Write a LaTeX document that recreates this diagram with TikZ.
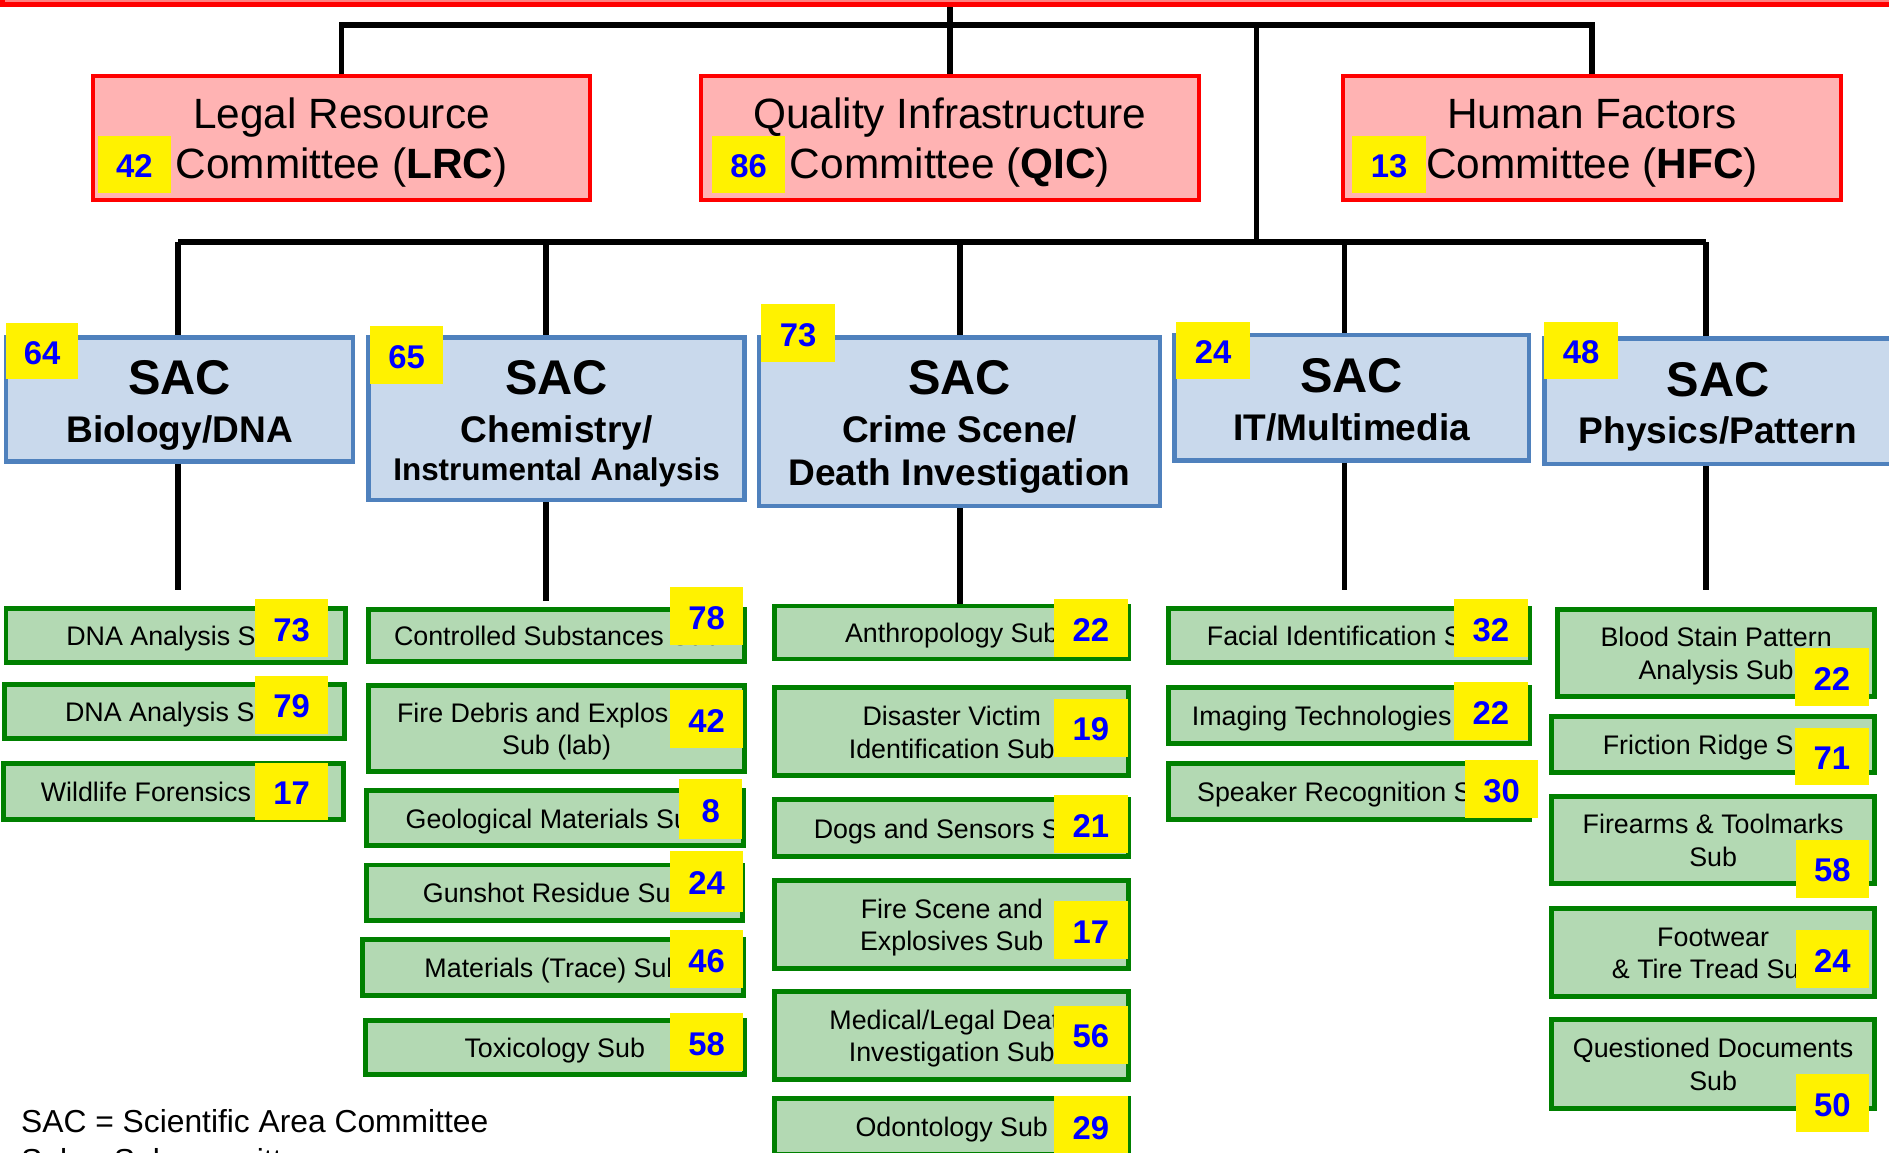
\documentclass[tikz,border=0pt]{standalone}
\usepackage{fontspec}
\setmainfont{Liberation Sans}
\usepackage{tikz}
\definecolor{barfill}{HTML}{FF8080}
\definecolor{cmtefill}{HTML}{FFB3B3}
\definecolor{sacfill}{HTML}{C9D9EC}
\definecolor{sacline}{HTML}{4F81BD}
\definecolor{subfill}{HTML}{B3D9B3}
\definecolor{subline}{HTML}{008000}
\newcommand{\sactop}{{\fontsize{13.8}{13.5}\selectfont SAC}}

\begin{document}
\begin{tikzpicture}[
  x=0.012cm, y=-0.012cm,
  boxsize/.style 2 args={minimum width=#1*0.012cm, minimum height=#2*0.012cm},
  bar/.style={rectangle, draw=red, line width=1.4pt, fill=barfill, inner sep=0pt},
  cmte/.style={rectangle, draw=red, line width=1.2pt, fill=cmtefill, inner sep=0pt,
               boxsize={413}{103}, align=center, font=\fontsize{12}{14.2}\selectfont,
               text height=26.2pt, text depth=3pt},
  sac/.style={rectangle, draw=sacline, line width=1.3pt, fill=sacfill, inner sep=0pt,
              align=center, font=\fontsize{10.5}{13.5}\selectfont\bfseries,
              text height=26.8pt, text depth=2.6pt},
  sub/.style={rectangle, draw=subline, line width=1.4pt, fill=subfill, inner sep=0pt,
              align=center, font=\fontsize{7.6}{9.2}\selectfont,
              text height=7.7pt, text depth=1.9pt},
  sub2/.style={sub, text height=16.8pt},
  badge/.style={rectangle, fill=yellow, inner sep=0pt, text=blue, boxsize={61}{48},
                font=\fontsize{9.3}{11}\selectfont\bfseries, text height=9.7pt, text depth=2.3pt},
  link/.style={line width=1.6pt},
  note/.style={font=\fontsize{9}{11.3}\selectfont, align=left, inner sep=0pt},
]
\useasboundingbox (0,0) rectangle (1568,957);

% committees
\node[bar, boxsize={1573}{34}] (topbar) at (788.5,-13) {};
\node[cmte] (lrc) at (283.5,114.5) {Legal Resource\\Committee (\textbf{LRC})};
\node[cmte] (qic) at (788.5,114.5) {Quality Infrastructure\\Committee (\textbf{QIC})};
\node[cmte] (hfc) at (1321.5,114.5) {Human Factors\\Committee (\textbf{HFC})};
\node[badge] (nlrc) at (111.5,136.5) {42};
\node[badge] (nqic) at (621.5,136.5) {86};
\node[badge] (nhfc) at (1153,136.5) {13};

% SACs
\node[sac, boxsize={288}{103}] (bio) at (149,331.5) {\sactop\\Biology/DNA};
\node[sac, boxsize={312}{135}, text height=37.4pt] (chem) at (462,347.5) {\sactop\\Chemistry/\\[-2.8pt]{\fontsize{8.9}{11}\selectfont Instrumental Analysis}};
\node[sac, boxsize={333}{140}, text height=39pt] (crime) at (796.5,350) {\sactop\\Crime Scene/\\[-1.2pt]Death Investigation};
\node[sac, boxsize={294}{104}] (itm) at (1122,330) {\sactop\\IT/Multimedia};
\node[sac, boxsize={288}{104}] (phys) at (1426,333) {\sactop\\Physics/Pattern};
\node[badge, boxsize={60}{47}] (nbio) at (35,291.5) {64};
\node[badge] (nchem) at (337.5,295) {65};
\node[badge] (ncrime) at (662.5,276.5) {73};
\node[badge] (nitm) at (1007,291) {24};
\node[badge] (nphys) at (1312.5,291) {48};

% subcommittees
\node[sub, boxsize={282}{45}] (dnaa) at (146,527.5) {DNA Analysis Sub};
\node[sub, boxsize={282}{45}] (dnab) at (145,590.5) {DNA Analysis Sub};
\node[sub, boxsize={282}{46}] (wild) at (144,657) {Wildlife Forensics Sub};
\node[sub, boxsize={312}{43}] (ctrl) at (462,527.5) {Controlled Substances Sub};
\node[sub2, boxsize={312}{71}] (fire) at (462,604.5) {Fire Debris and Explosives\\Sub (lab)};
\node[sub, boxsize={313}{46}] (geo) at (460.5,679) {Geological Materials Sub};
\node[sub, boxsize={312}{46}] (gsr) at (460,741) {Gunshot Residue Sub};
\node[sub, boxsize={316}{46}] (trace) at (459,803) {Materials (Trace) Sub};
\node[sub, boxsize={315}{45}] (tox) at (460.5,869.5) {Toxicology Sub};
\node[sub, boxsize={294}{44}] (anth) at (790,525) {Anthropology Sub};
\node[sub2, boxsize={294}{73}] (dvi) at (790,607.5) {Disaster Victim\\Identification Sub};
\node[sub, boxsize={294}{47}] (dogs) at (790,687.5) {Dogs and Sensors Sub};
\node[sub2, boxsize={294}{73}] (fse) at (790,767.5) {Fire Scene and\\Explosives Sub};
\node[sub2, boxsize={294}{73}] (mld) at (790,859.5) {Medical/Legal Death\\Investigation Sub};
\node[sub, boxsize={294}{46}] (odon) at (790,935) {Odontology Sub};
\node[sub, boxsize={300}{45}] (fid) at (1120,527.5) {Facial Identification Sub};
\node[sub, boxsize={300}{46}] (img) at (1120,594) {Imaging Technologies Sub};
\node[sub, boxsize={300}{46}] (spk) at (1120,657) {Speaker Recognition Sub};
\node[sub2, boxsize={263}{72}] (bsp) at (1424.5,542) {Blood Stain Pattern\\Analysis Sub};
\node[sub, boxsize={268}{46}] (fric) at (1422,618) {Friction Ridge Sub};
\node[sub2, boxsize={268}{72}] (fat) at (1422,697) {Firearms \& Toolmarks\\Sub};
\node[sub2, boxsize={268}{73}] (foot) at (1422,790.5) {Footwear\\\& Tire Tread Sub};
\node[sub2, boxsize={268}{74}] (qd) at (1422,883) {Questioned Documents\\Sub};

% member counts
\node[badge] (ndnaa) at (242,521.5) {73};
\node[badge] (ndnab) at (242,585) {79};
\node[badge] (nwild) at (242,657) {17};
\node[badge] (nctrl) at (586.5,511.5) {78};
\node[badge] (nfire) at (586.5,597) {42};
\node[badge, boxsize={52}{49}] (ngeo) at (590,671.5) {8};
\node[badge, boxsize={61}{51}] (ngsr) at (586.5,731.5) {24};
\node[badge] (ntrace) at (586.5,796) {46};
\node[badge] (ntox) at (586.5,865) {58};
\node[badge] (nanth) at (905.5,521.5) {22};
\node[badge] (ndvi) at (905.5,604) {19};
\node[badge] (ndogs) at (905.5,684) {21};
\node[badge] (nfse) at (905.5,772) {17};
\node[badge] (nmld) at (905.5,859) {56};
\node[badge, boxsize={61}{50}] (nodon) at (905.5,935) {29};
\node[badge] (nfid) at (1237.5,521.5) {32};
\node[badge] (nimg) at (1237.5,590.5) {22};
\node[badge] (nspk) at (1246.5,655) {30};
\node[badge] (nbsp) at (1520.5,562) {22};
\node[badge] (nfric) at (1520.5,628) {71};
\node[badge] (nfat) at (1521,721) {58};
\node[badge] (nfoot) at (1521,796) {24};
\node[badge] (nqd) at (1521,915.5) {50};

\node[note, anchor=north west] (legend) at (17,920) {SAC = Scientific Area Committee\\Sub = Subcommittee};

% tree lines
\coordinate (topbus) at (788,21);
\coordinate (split) at (1043,21);
\coordinate (dbio) at (148,201);
\coordinate (dchem) at (453,201);
\coordinate (dcrime) at (797,201);
\coordinate (dit) at (1116,201);
\coordinate (dphys) at (1416,201);

\draw[link] (topbar.south) -- (qic.north);
\draw[link] (lrc.north) -- (lrc.north |- topbus) -- (hfc.north |- topbus) -- (hfc.north);
\draw[link] (split) -- (split |- dbio);
\draw[link] (dbio) -- (dphys);
\foreach \d/\s in {dbio/bio, dchem/chem, dcrime/crime, dit/itm, dphys/phys}
  \draw[link] (\d) -- (\d |- \s.north);
\draw[link, shorten >=0.16cm] (dbio |- bio.south) -- (dbio |- dnaa.north);
\draw[link, shorten >=0.06cm] (dchem |- chem.south) -- (dchem |- ctrl.north);
\draw[link] (dcrime |- crime.south) -- (dcrime |- anth.north);
\draw[link, shorten >=0.16cm] (dit |- itm.south) -- (dit |- fid.north);
\draw[link, shorten >=0.17cm] (dphys |- phys.south) -- (dphys |- bsp.north);
\end{tikzpicture}
\end{document}
